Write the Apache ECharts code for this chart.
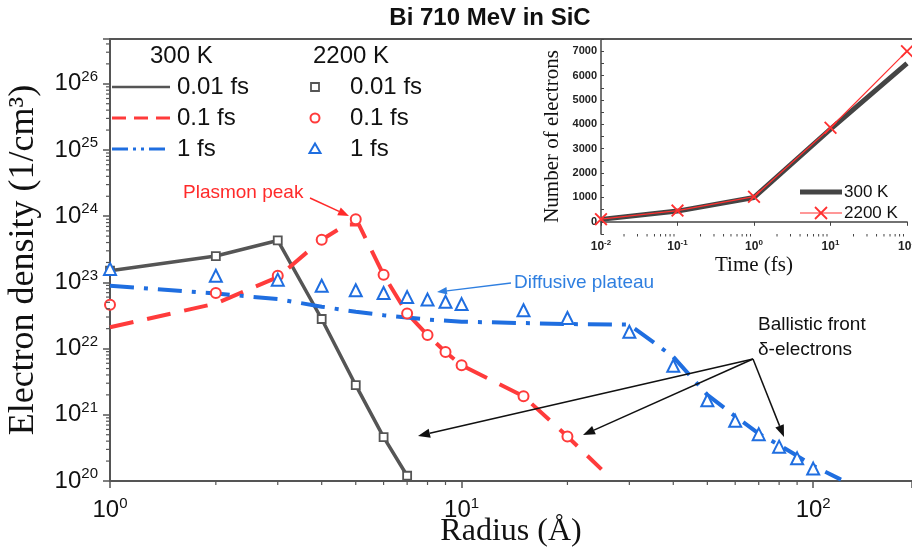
<!DOCTYPE html>
<html><head><meta charset="utf-8">
<script src="https://cdn.jsdelivr.net/npm/echarts@6/dist/echarts.min.js"></script>
<style>html,body{margin:0;padding:0;background:#fff}#c{width:912px;height:548px}</style>
</head><body><div id="c"></div>
<script>
// ---------------- data ----------------
const r300_001 = [1, 2, 3, 4, 5, 6, 7];
const n300_001 = [1.5e23, 2.5e23, 4.3e23, 2.8e22, 2.8e21, 4.6e20, 1.2e20];

const r300_01 = [1, 2, 3, 4, 4.7, 5.1, 6, 7, 8, 9, 10, 15, 20, 25];
const n300_01 = [2.1e22, 4.8e22, 1.2e23, 4.4e23, 7.5e23, 7.5e23, 1.3e23, 3.4e22, 1.6e22, 8.9e21, 5.6e21, 1.9e21, 4.7e20, 1.5e20];

const r300_1 = [1, 2, 3, 4, 5, 6, 8, 10, 20, 30, 40, 50, 60, 70, 80, 90, 100, 120];
const n300_1 = [8.9e22, 6.8e22, 5.6e22, 4.3e22, 3.6e22, 3.2e22, 2.75e22, 2.55e22, 2.35e22, 2.3e22, 7.5e21, 2.0e21, 9.5e20, 5.2e20, 3.5e20, 2.4e20, 1.7e20, 1.05e20];

const r2200_001 = [1, 2, 3, 4, 5, 6, 7];
const n2200_001 = [1.5e23, 2.5e23, 4.3e23, 2.8e22, 2.8e21, 4.6e20, 1.2e20];

const r2200_01 = [1, 2, 3, 4, 5, 6, 7, 8, 9, 10, 15, 20];
const n2200_01 = [4.6e22, 6.9e22, 1.26e23, 4.4e23, 9.0e23, 1.3e23, 3.4e22, 1.6e22, 8.9e21, 5.6e21, 1.9e21, 4.7e20];

const r2200_1 = [1, 2, 3, 4, 5, 6, 7, 8, 9, 10, 15, 20, 30, 40, 50, 60, 70, 80, 90, 100];
const n2200_1 = [1.6e23, 1.26e23, 1.1e23, 8.9e22, 7.6e22, 6.9e22, 6.0e22, 5.5e22, 5.1e22, 4.7e22, 3.8e22, 2.9e22, 1.8e22, 5.5e21, 1.66e21, 8.1e20, 5.1e20, 3.3e20, 2.2e20, 1.54e20];

// inset
const insetTime = [0.01, 0.1, 1, 10, 100];
const insetN300 = [100, 440, 1000, 3800, 6500];
const insetN2200 = [110, 460, 1030, 3860, 7000];

// axis ranges
const xRange = [1, 191];
const yRange = [1e20, 4.75e26];
const insetXRange = [0.01, 100];
const insetYRange = [-500, 7500];

// ---------------- helpers ----------------
const zip = (a, b) => a.map((v, i) => [v, b[i]]);
const SANS = '"Liberation Sans", Arial, sans-serif';
const SERIF = '"Liberation Serif", "Times New Roman", serif';
const AX = '#555';
const GRAY = '#555', RED = '#ff3b3b', BLUE = '#1f6ee0';

function minorLog(lo, hi) {
  const out = [];
  for (let e = Math.floor(Math.log10(lo)); e <= Math.ceil(Math.log10(hi)); e++) {
    for (let m = 2; m <= 9; m++) { const v = m * Math.pow(10, e); if (v > lo && v < hi) out.push(v); }
  }
  return out;
}
function powLabel(v) {
  const l = Math.log10(v), e = Math.round(l);
  if (Math.abs(l - e) > 1e-6) return '';
  return '{b|10}{s|' + e + '}';
}
function arrow(x1, y1, x2, y2, color, w, head) {
  const a = Math.atan2(y2 - y1, x2 - x1), L = head, W = head * 0.38;
  const bx = x2 - L * Math.cos(a), by = y2 - L * Math.sin(a);
  const px = -Math.sin(a) * W, py = Math.cos(a) * W;
  return [
    { type: 'line', shape: { x1: x1, y1: y1, x2: bx, y2: by }, style: { stroke: color, lineWidth: w }, z: 100 },
    { type: 'polygon', shape: { points: [[x2, y2], [bx + px, by + py], [bx - px, by - py]] }, style: { fill: color }, z: 100 }
  ];
}
function seg(x1, y1, x2, y2, color, w, dash) {
  const st = { stroke: color, lineWidth: w };
  if (dash) st.lineDash = dash;
  return { type: 'line', shape: { x1: x1, y1: y1, x2: x2, y2: y2 }, style: st, z: 100 };
}
function txt(x, y, text, color, size, weight, align) {
  return { type: 'text', x: x, y: y, z: 100,
    style: { text: text, fill: color, font: (weight || 'normal') + ' ' + size + 'px ' + SANS, align: align || 'left', verticalAlign: 'middle' } };
}
function tickSeries(xi, yi, data, dir, len, color, w) {
  return {
    type: 'custom', xAxisIndex: xi, yAxisIndex: yi, data: data, silent: true, clip: false, z: 5,
    renderItem: function (params, api) {
      const p = api.coord([api.value(0), api.value(1)]);
      const shape = dir === 'y' ? { x1: p[0] - len, y1: p[1], x2: p[0], y2: p[1] }
                                : { x1: p[0], y1: p[1], x2: p[0], y2: p[1] + len };
      return { type: 'line', shape: shape, style: { stroke: color, lineWidth: w } };
    }
  };
}

const richMain = {
  b: { fontSize: 24, fontFamily: SANS, color: '#111' },
  s: { fontSize: 15, fontFamily: SANS, color: '#111', padding: [0, 0, 14, 0] }
};
const richInset = {
  b: { fontSize: 12, fontFamily: SANS, fontWeight: 'bold', color: '#222' },
  s: { fontSize: 8, fontFamily: SANS, fontWeight: 'bold', color: '#222', padding: [0, 0, 7, 0] }
};

const xCross = 'path://M1,0 L5,4 L9,0 L10,1 L6,5 L10,9 L9,10 L5,6 L1,10 L0,9 L4,5 L0,1 Z';

// ---------------- graphics (legends + annotations) ----------------
const graphics = [];
graphics.push(txt(490, 18, 'Bi 710 MeV in SiC', '#111', 24, 'bold', 'center'));
graphics.push(txt(150, 56, '300 K', '#111', 24));
graphics.push(txt(313, 56, '2200 K', '#111', 24));
graphics.push(seg(112, 87, 170, 87, GRAY, 2.5));
graphics.push(seg(112, 118, 170, 118, RED, 3, [14, 8]));
graphics.push(seg(112, 149, 170, 149, BLUE, 3, [16, 5, 3, 5, 3, 5]));
graphics.push(txt(177, 87, '0.01 fs', '#111', 24));
graphics.push(txt(177, 118, '0.1 fs', '#111', 24));
graphics.push(txt(177, 149, '1 fs', '#111', 24));
graphics.push({ type: 'rect', shape: { x: 311, y: 83, width: 8, height: 8 }, style: { fill: '#fff', stroke: GRAY, lineWidth: 1.8 }, z: 100 });
graphics.push({ type: 'circle', shape: { cx: 315, cy: 118, r: 4.5 }, style: { fill: '#fff', stroke: RED, lineWidth: 2 }, z: 100 });
graphics.push({ type: 'polygon', shape: { points: [[315, 143.5], [320.5, 153], [309.5, 153]] }, style: { fill: '#fff', stroke: BLUE, lineWidth: 2 }, z: 100 });
graphics.push(txt(350, 87, '0.01 fs', '#111', 24));
graphics.push(txt(350, 118, '0.1 fs', '#111', 24));
graphics.push(txt(350, 149, '1 fs', '#111', 24));
// inset legend
graphics.push(seg(800, 192, 842, 192, '#444', 5));
graphics.push(txt(844, 192, '300 K', '#111', 17));
graphics.push(seg(800, 213, 842, 213, '#ff3030', 1.2));
graphics.push(seg(815, 207, 827, 219, '#ff3030', 1.8));
graphics.push(seg(827, 207, 815, 219, '#ff3030', 1.8));
graphics.push(txt(844, 213, '2200 K', '#111', 17));
// annotations
graphics.push(txt(183, 193, 'Plasmon peak', '#ff2a2a', 19));
graphics.push(...arrow(310, 198, 349, 216, '#ff2a2a', 1.6, 11));
graphics.push(txt(514, 283, 'Diffusive plateau', '#2f7fe0', 19));
graphics.push(...arrow(511, 283, 437, 292, '#2f7fe0', 1.3, 10));
graphics.push(txt(758, 325, 'Ballistic front', '#111', 19));
graphics.push(txt(758, 350, 'δ-electrons', '#111', 19));
graphics.push(...arrow(753, 359, 418, 436, '#111', 1.5, 12));
graphics.push(...arrow(753, 359, 583, 435, '#111', 1.5, 12));
graphics.push(...arrow(753, 359, 784, 437, '#111', 1.5, 12));

const chart = echarts.init(document.getElementById('c'), null, { renderer: 'canvas' });
chart.setOption({
  animation: false,
  backgroundColor: '#fff',
  grid: [
    { left: 110, right: 0, top: 39, bottom: 67, containLabel: false, outerBoundsMode: 'none' },
    { left: 601, right: 5, top: 39, bottom: 314, containLabel: false, outerBoundsMode: 'none' }
  ],
  xAxis: [
    { type: 'log', gridIndex: 0, min: xRange[0], max: xRange[1], logBase: 10,
      axisLine: { lineStyle: { color: AX, width: 2 } },
      axisTick: { length: 7, lineStyle: { color: AX, width: 1.5 } },
      axisLabel: { formatter: powLabel, rich: richMain, margin: 15 },
      splitLine: { show: false },
      name: 'Radius (Å)', nameLocation: 'middle', nameGap: 35, nameMoveOverlap: false,
      nameTextStyle: { fontFamily: SERIF, fontSize: 32, color: '#111' } },
    { type: 'log', gridIndex: 0, position: 'top', min: xRange[0], max: xRange[1], logBase: 10,
      axisLine: { lineStyle: { color: AX, width: 2 } }, axisTick: { show: false },
      axisLabel: { show: false }, splitLine: { show: false } },
    { type: 'log', gridIndex: 1, min: insetXRange[0], max: insetXRange[1], logBase: 10,
      axisLine: { lineStyle: { color: '#444', width: 1.5 } },
      axisTick: { length: 4, lineStyle: { color: '#444', width: 1 } },
      axisLabel: { formatter: powLabel, rich: richInset, margin: 5 },
      splitLine: { show: false },
      name: 'Time (fs)', nameLocation: 'middle', nameGap: 21, nameMoveOverlap: false,
      nameTextStyle: { fontFamily: SERIF, fontSize: 21, color: '#111' } }
  ],
  yAxis: [
    { type: 'log', gridIndex: 0, min: yRange[0], max: yRange[1], logBase: 10,
      axisLine: { lineStyle: { color: AX, width: 2 } },
      axisTick: { length: 7, lineStyle: { color: AX, width: 1.5 } },
      axisLabel: { formatter: powLabel, rich: richMain, margin: 12 },
      splitLine: { show: false },
      name: 'Electron density (1/cm³)', nameLocation: 'middle', nameGap: 68, nameMoveOverlap: false,
      nameTextStyle: { fontFamily: SERIF, fontSize: 36, color: '#111' } },
    { type: 'value', gridIndex: 1, min: insetYRange[0], max: insetYRange[1], interval: 500,
      axisLine: { show: true, lineStyle: { color: '#444', width: 1.5 } },
      axisTick: { show: true, length: 3, inside: true, lineStyle: { color: '#444', width: 1 } },
      axisLabel: { formatter: v => (v >= 0 && v % 1000 === 0) ? String(v) : '', fontSize: 11, fontWeight: 'bold', color: '#222', fontFamily: SANS, margin: 4 },
      splitLine: { show: false },
      name: 'Number of electrons', nameLocation: 'middle', nameGap: 38, nameMoveOverlap: false,
      nameTextStyle: { fontFamily: SERIF, fontSize: 21, color: '#111' } }
  ],
  series: [
    tickSeries(0, 0, minorLog(yRange[0], yRange[1]).map(v => [xRange[0], v]), 'y', 4, AX, 1.2),
    tickSeries(0, 0, minorLog(xRange[0], xRange[1]).map(v => [v, yRange[0]]), 'x', 4, AX, 1.2),
    tickSeries(2, 1, minorLog(insetXRange[0], insetXRange[1]).map(v => [v, insetYRange[0]]), 'x', 2.5, '#444', 1),
    { name: '300 K 0.01 fs', type: 'line', xAxisIndex: 0, yAxisIndex: 0, data: zip(r300_001, n300_001),
      symbol: 'none', lineStyle: { color: GRAY, width: 3.5 }, z: 2 },
    { name: '300 K 0.1 fs', type: 'line', xAxisIndex: 0, yAxisIndex: 0, data: zip(r300_01, n300_01),
      symbol: 'none', lineStyle: { color: RED, width: 4, type: [24, 14] }, z: 2 },
    { name: '300 K 1 fs', type: 'line', xAxisIndex: 0, yAxisIndex: 0, data: zip(r300_1, n300_1),
      symbol: 'none', lineStyle: { color: BLUE, width: 4, type: [24, 10, 4, 10] }, z: 2 },
    { name: '2200 K 0.01 fs', type: 'scatter', xAxisIndex: 0, yAxisIndex: 0, data: zip(r2200_001, n2200_001),
      symbol: 'rect', symbolSize: 8, itemStyle: { color: '#fff', borderColor: GRAY, borderWidth: 1.8, opacity: 1 }, z: 3 },
    { name: '2200 K 0.1 fs', type: 'scatter', xAxisIndex: 0, yAxisIndex: 0, data: zip(r2200_01, n2200_01),
      symbol: 'circle', symbolSize: 10, itemStyle: { color: '#fff', borderColor: RED, borderWidth: 2, opacity: 1 }, z: 3 },
    { name: '2200 K 1 fs', type: 'scatter', xAxisIndex: 0, yAxisIndex: 0, data: zip(r2200_1, n2200_1),
      symbol: 'triangle', symbolSize: 12, itemStyle: { color: '#fff', borderColor: BLUE, borderWidth: 2, opacity: 1 }, z: 3 },
    { name: '300 K', type: 'line', xAxisIndex: 2, yAxisIndex: 1, data: zip(insetTime, insetN300),
      symbol: 'none', lineStyle: { color: '#444', width: 5 }, itemStyle: { color: '#444' }, z: 4 },
    { name: '2200 K', type: 'line', xAxisIndex: 2, yAxisIndex: 1, data: zip(insetTime, insetN2200),
      symbol: xCross, symbolSize: 13, showSymbol: true, lineStyle: { color: '#ff3030', width: 1.2 },
      itemStyle: { color: '#ff3030' }, z: 5 }
  ],
  graphic: graphics
});
</script>
</body></html>
